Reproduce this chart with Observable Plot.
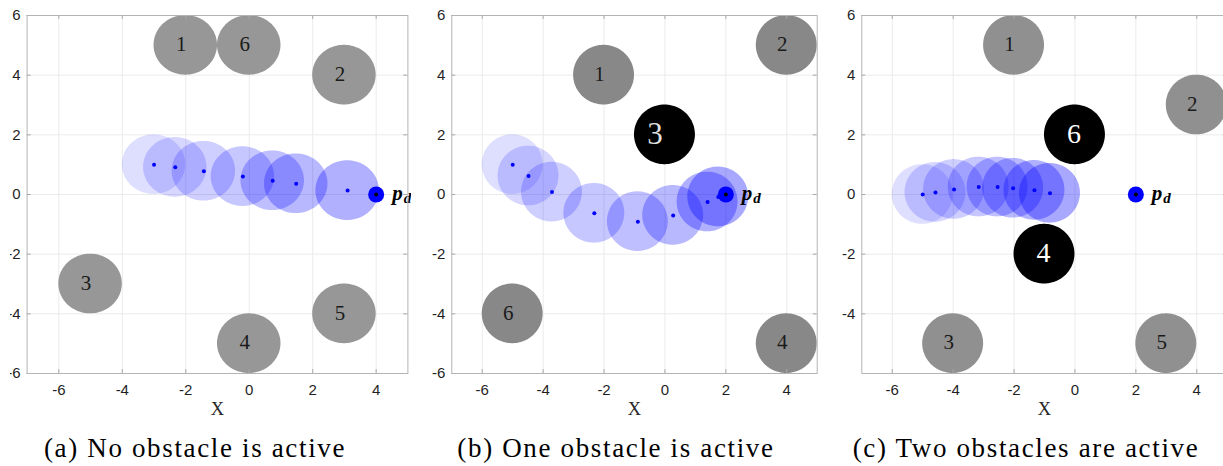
<!DOCTYPE html>
<html><head><meta charset="utf-8">
<script src="https://cdn.jsdelivr.net/npm/d3@7"></script>
<script src="https://cdn.jsdelivr.net/npm/@observablehq/plot@0.6"></script>
<style>
html,body{margin:0;padding:0;background:#fff;overflow:hidden;}
#wrap{position:relative;width:1223px;height:466px;overflow:hidden;background:#fff;}
.clip{position:absolute;top:0;height:420px;overflow:hidden;}
.clip svg{position:absolute;top:0;max-width:none !important;}
.cap{position:absolute;top:435px;font-family:"Liberation Serif",serif;font-size:27px;letter-spacing:1.65px;line-height:27px;white-space:nowrap;transform:translateX(-50%);color:#000;}
</style></head><body><div id="wrap"></div>
<script>
// ---------- data ----------
const xTicks = [-6, -4, -2, 0, 2, 4];
const yTicksAB = [-6, -4, -2, 0, 2, 4, 6];
const yTicksC = [-4, -2, 0, 2, 4, 6];

// (a) No obstacle is active
const obsA_id = [1, 6, 2, 3, 4, 5];
const obsA_x = [-2, 0, 3, -5, 0, 3];
const obsA_y = [5, 5, 4, -3, -5, -4];
const activeA = [];
const trajA_x = [-3, -2.33, -1.43, -0.2, 0.74, 1.48, 3.1];
const trajA_y = [1, 0.91, 0.78, 0.6, 0.46, 0.36, 0.13];
const goalA = [4, 0];

// (b) One obstacle is active
const obsB_id = [1, 2, 3, 6, 4];
const obsB_x = [-2, 4, 0, -5, 4];
const obsB_y = [4, 5, 2, -4, -5];
const activeB = [3];
const trajB_x = [-5, -4.48, -3.71, -2.32, -0.89, 0.27, 1.4, 1.75];
const trajB_y = [1, 0.62, 0.08, -0.63, -0.91, -0.7, -0.25, -0.08];
const goalB = [2, 0];

// (c) Two obstacles are active
const obsC_id = [1, 2, 6, 4, 3, 5];
const obsC_x = [-2, 4, 0, -1, -4, 3];
const obsC_y = [5, 3, 2, -2, -5, -5];
const activeC = [6, 4];
const trajC_x = [-5, -4.58, -3.97, -3.16, -2.54, -2.03, -1.33, -0.82];
const trajC_y = [0, 0.07, 0.17, 0.25, 0.25, 0.21, 0.14, 0.04];
const goalC = [2, 0];

const radius = 1;
const captions = ["(a) No obstacle is active", "(b) One obstacle is active", "(c) Two obstacles are active"];

// ---------- helpers ----------
function disk(cx, cy, r, id) {
  const n = 90, out = [];
  for (let k = 0; k <= n; k++) {
    const t = Math.PI * k / n;
    const dx = r * Math.cos(t), dy = r * Math.sin(t);
    out.push({id, x: cx + dx, y1: cy - dy, y2: cy + dy});
  }
  return out;
}

function panel(o) {
  const obs = o.ids.map((id, i) => ({id, x: o.ox[i], y: o.oy[i], active: o.active.includes(id)}));
  const gray = obs.filter(d => !d.active), black = obs.filter(d => d.active);
  const traj = o.tx.map((x, i) => ({i, x, y: o.ty[i]}));
  const goal = [{x: o.goal[0], y: o.goal[1]}];
  const serif = "'Liberation Serif', 'Times New Roman', serif";
  const tick = "#a8a8a8";
  const marks = [
    Plot.ruleX(xTicks, {stroke: "#ebebeb"}),
    Plot.ruleY(o.yTicks, {stroke: "#ebebeb"}),
    Plot.areaY(gray.flatMap(d => disk(d.x, d.y, radius, d.id)), {x: "x", y1: "y1", y2: "y2", z: "id", fill: o.grayFill}),
    Plot.areaY(black.flatMap(d => disk(d.x, d.y, radius, d.id)), {x: "x", y1: "y1", y2: "y2", z: "id", fill: "black"}),
    ...traj.map((d, i) => Plot.areaY(disk(d.x, d.y, radius, i), {x: "x", y1: "y1", y2: "y2", fill: "#0000ff", fillOpacity: 0.1 + 0.03 * (i + 1)})),
    Plot.dot(traj, {x: "x", y: "y", r: 2, fill: "#0000ff"}),
    Plot.dot(goal, {x: "x", y: "y", r: 8, fill: "#0000ff"}),
    Plot.dot(goal, {x: "x", y: "y", r: 2, fill: "black"}),
    Plot.text(goal, {x: "x", y: "y", text: () => "p", dx: 16, dy: -1, textAnchor: "start", lineAnchor: "middle", fontFamily: serif, fontSize: 21, fontStyle: "italic", fontWeight: "bold", fill: "black"}),
    Plot.text(goal, {x: "x", y: "y", text: () => "d", dx: 27.5, dy: 4, textAnchor: "start", lineAnchor: "middle", fontFamily: serif, fontSize: 15, fontStyle: "italic", fontWeight: "bold", fill: "black"}),
    Plot.text(gray, {x: "x", y: "y", text: d => String(d.id), dx: -4.5, dy: -1, lineAnchor: "middle", fontFamily: serif, fontSize: 21, fill: "#1a1a1a"}),
    Plot.text(black, {x: "x", y: "y", text: d => String(d.id), dx: o.activeDx, dy: -1, lineAnchor: "middle", fontFamily: serif, fontSize: o.activeSize, fill: o.activeLabel}),
    Plot.ruleX(xTicks, {y1: -6, y2: -5.87, stroke: tick}),
    Plot.ruleX(xTicks, {y1: 6, y2: 5.87, stroke: tick}),
    Plot.ruleY(o.yTicks, {x1: -7, x2: -6.87, stroke: tick}),
    Plot.ruleY(o.yTicks, {x1: 5, x2: 4.87, stroke: tick}),
    Plot.frame({stroke: "#b4b4b4"}),
    Plot.text(["X"], {frameAnchor: "bottom", text: d => d, dy: 36, lineAnchor: "middle", fontFamily: serif, fontSize: 18.5, fill: "#262626"})
  ];
  const svg = Plot.plot({
    width: o.width, height: 420,
    marginLeft: o.ml, marginRight: o.mr, marginTop: 15, marginBottom: 47,
    x: {domain: [-7, 5], ticks: xTicks, tickSize: 0, tickPadding: 11, tickFormat: d => String(d), label: null},
    y: {domain: [-6, 6], ticks: o.yTicks, tickSize: 0, tickPadding: 6.5, tickFormat: d => String(d), label: null},
    style: {fontFamily: "'Liberation Sans', Arial, sans-serif", fontSize: "15px", color: "#1f1f1f", background: "transparent", maxWidth: "none"},
    marks
  });
  svg.style.maxWidth = "none";
  svg.style.width = o.width + "px";
  svg.style.height = "420px";
  return svg;
}

const wrap = document.getElementById("wrap");
function place(svg, clipLeft, clipWidth, svgLeft) {
  const c = document.createElement("div");
  c.className = "clip";
  c.style.left = clipLeft + "px";
  c.style.width = clipWidth + "px";
  svg.style.left = svgLeft + "px";
  c.appendChild(svg);
  wrap.appendChild(c);
}

place(panel({ids: obsA_id, ox: obsA_x, oy: obsA_y, active: activeA, tx: trajA_x, ty: trajA_y, goal: goalA,
  yTicks: yTicksAB, grayFill: "#979797", activeLabel: "white", activeDx: -1, activeSize: 28,
  width: 420, ml: 26.6, mr: 12.6}), 10, 400.5, -10);
place(panel({ids: obsB_id, ox: obsB_x, oy: obsB_y, active: activeB, tx: trajB_x, ty: trajB_y, goal: goalB,
  yTicks: yTicksAB, grayFill: "#888888", activeLabel: "#dedede", activeDx: -10, activeSize: 31,
  width: 412, ml: 40.3, mr: 6.3}), 411, 409, 0);
place(panel({ids: obsC_id, ox: obsC_x, oy: obsC_y, active: activeC, tx: trajC_x, ty: trajC_y, goal: goalC,
  yTicks: yTicksC, grayFill: "#909090", activeLabel: "white", activeDx: -1, activeSize: 28,
  width: 420, ml: 41.3, mr: 13.3}), 820, 403, 0);

const capX = [195, 616, 1026];
captions.forEach((t, i) => {
  const d = document.createElement("div");
  d.className = "cap";
  d.style.left = capX[i] + "px";
  d.textContent = t;
  wrap.appendChild(d);
});
</script></body></html>
